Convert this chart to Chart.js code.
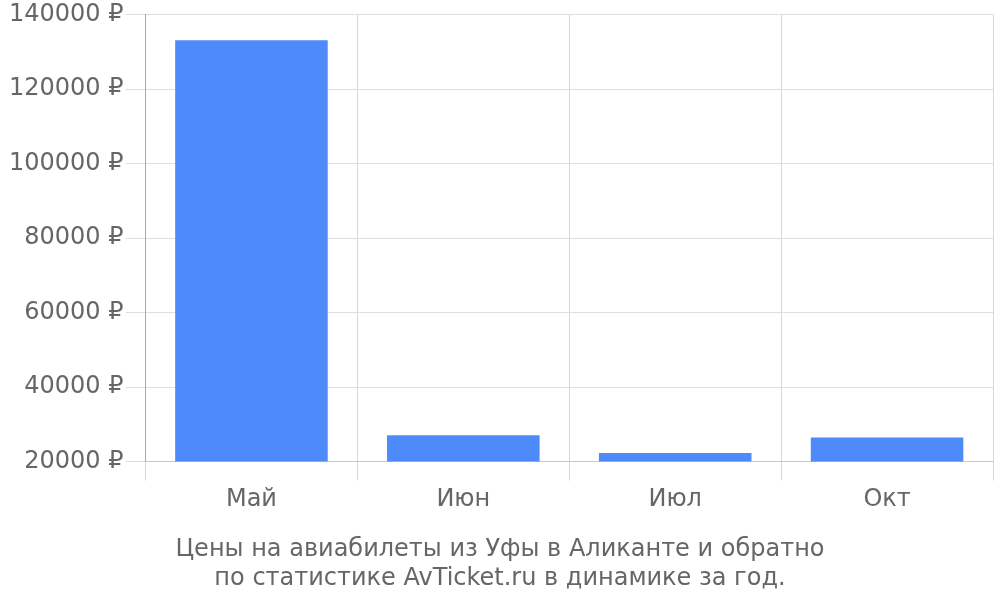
<!DOCTYPE html>
<html>
<head>
<meta charset="utf-8">
<script src="https://cdn.jsdelivr.net/npm/chart.js@4"></script>
<style>
html,body{margin:0;padding:0;background:#fff;}
#wrap{width:1000px;height:600px;}
</style>
</head>
<body>
<div id="wrap"><canvas id="c" width="1000" height="600"></canvas></div>
<script>
const categories = ["Май", "Июн", "Июл", "Окт"];
const prices = [133100, 27100, 22300, 26500];
const titleLines = ["Цены на авиабилеты из Уфы в Аликанте и обратно", "по статистике AvTicket.ru в динамике за год."];
const yMin = 20000, yMax = 140000, yStep = 20000;

Chart.defaults.font.family = "'DejaVu Sans', sans-serif";
Chart.defaults.color = "#666";

new Chart(document.getElementById('c'), {
  type: 'bar',
  data: {
    labels: categories,
    datasets: [{
      data: prices,
      backgroundColor: '#4e8af9',
      borderWidth: 0
    }]
  },
  options: {
    responsive: false,
    animation: false,
    layout: { padding: { left: 7, right: 7, top: 0, bottom: 7 } },
    plugins: {
      legend: { display: false },
      tooltip: { enabled: false },
      title: {
        display: true,
        position: 'bottom',
        text: titleLines,
        color: '#666',
        font: { size: 24, weight: 'normal' },
        lineHeight: 1.17,
        padding: { top: 16, bottom: 0 }
      }
    },
    scales: {
      x: {
        offset: true,
        grid: { color: '#d8d8d8', tickLength: 19, offset: true },
        border: { color: '#c8c8c8' },
        ticks: { font: { size: 24 }, padding: 5, color: '#666' }
      },
      y: {
        min: yMin,
        max: yMax,
        ticks: {
          stepSize: yStep,
          font: { size: 24, lineHeight: 1.05 },
          padding: 2,
          color: '#666',
          callback: v => v + ' ₽'
        },
        grid: { color: '#dedede', tickLength: 20 },
        border: { color: '#aaaaaa' }
      }
    }
  }
});
</script>
</body>
</html>
